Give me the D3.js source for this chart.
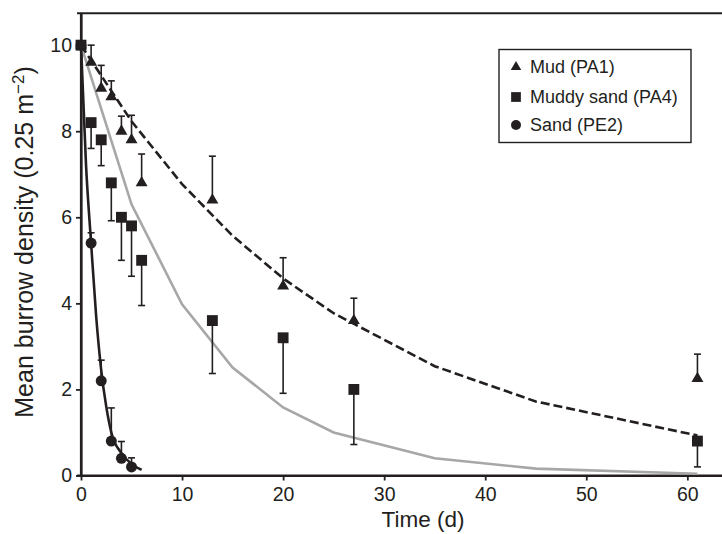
<!DOCTYPE html>
<html>
<head>
<meta charset="utf-8">
<script src="https://cdn.jsdelivr.net/npm/d3@7"></script>
<style>
  html, body { margin: 0; padding: 0; background: #fff; }
  svg text { font-family: "Liberation Sans", Arial, Helvetica, sans-serif; fill: #231f20; }
</style>
</head>
<body>
<svg id="chart" width="722" height="534"></svg>
<script>
// ---- data ----
const days = [0, 1, 2, 3, 4, 5, 6, 13, 20, 27, 61];
const mudMean = [10, 9.6, 9.0, 8.8, 8.0, 7.8, 6.8, 6.4, 4.4, 3.6, 2.25];
const mudErr = [0, 0.4, 0.53, 0.37, 0.35, 0.57, 0.67, 1.02, 0.66, 0.52, 0.57];
const muddySandMean = [10, 8.2, 7.8, 6.8, 6.0, 5.8, 5.0, 3.6, 3.2, 2.0, 0.8];
const muddySandErr = [0, 0.6, 0.6, 0.88, 1.0, 1.17, 1.05, 1.23, 1.29, 1.28, 0.6];
const sandDays = [0, 1, 2, 3, 4, 5];
const sandMean = [10, 5.4, 2.2, 0.8, 0.4, 0.2];
const sandErr = [0, 0.24, 0.48, 0.77, 0.39, 0.21];

const fitDays = [0, 5, 10, 15, 20, 25, 35, 45, 61];
const mudFit = [10, 8.23, 6.77, 5.57, 4.58, 3.77, 2.54, 1.72, 0.93];
const muddySandFit = [10, 6.3, 3.98, 2.51, 1.58, 1.0, 0.40, 0.16, 0.04];
const sandFitDays = [0, 0.5, 1, 1.5, 2, 2.5, 3, 4, 5, 6];
const sandFit = [10, 7.2, 5.4, 3.7, 2.45, 1.6, 1.0, 0.52, 0.27, 0.13];

const xTicks = [0, 10, 20, 30, 40, 50, 60];
const yTicks = [0, 2, 4, 6, 8, 10];
const legendLabels = ["Mud (PA1)", "Muddy sand (PA4)", "Sand (PE2)"];

// ---- layout ----
const ink = "#231f20";
const svg = d3.select("#chart");
const x = d3.scaleLinear().domain([0, 63.43]).range([81, 722]);
const y = d3.scaleLinear().domain([0, 10.74]).range([475.5, 13.3]);

// frame lines
svg.append("line").attr("x1", 77).attr("x2", 722).attr("y1", y(10.74)).attr("y2", y(10.74))
  .attr("stroke", ink).attr("stroke-width", 2);

// axes
const xAxis = svg.append("g").attr("transform", `translate(0,${y(0)})`)
  .call(d3.axisBottom(x).tickValues(xTicks).tickSize(5).tickPadding(7).tickSizeOuter(0));
const yAxis = svg.append("g").attr("transform", `translate(${x(0)},0)`)
  .call(d3.axisLeft(y).tickValues(yTicks).tickSize(5).tickPadding(4).tickSizeOuter(0));
[xAxis, yAxis].forEach(g => {
  g.select(".domain").attr("stroke", ink).attr("stroke-width", 2.2);
  g.selectAll(".tick line").attr("stroke", ink).attr("stroke-width", 1.8);
  g.selectAll(".tick text").attr("font-size", 19.5).style("font-family", '"Liberation Sans", Arial, sans-serif').attr("fill", ink);
});
// extend axes lines to the frame corners
svg.append("line").attr("x1", x(0)).attr("x2", x(0)).attr("y1", y(10.74)).attr("y2", y(0))
  .attr("stroke", ink).attr("stroke-width", 2.2);
svg.append("line").attr("x1", 77).attr("x2", 722).attr("y1", y(0)).attr("y2", y(0))
  .attr("stroke", ink).attr("stroke-width", 2.2);

// axis titles
svg.append("text").attr("x", 423).attr("y", 527).attr("text-anchor", "middle")
  .attr("font-size", 22.5).text("Time (d)");
const yl = svg.append("text").attr("transform", "translate(33,242) rotate(-90)")
  .attr("text-anchor", "middle").attr("font-size", 25);
yl.append("tspan").text("Mean burrow density (0.25 m");
yl.append("tspan").attr("dy", -9).attr("font-size", 17).text("\u22122");
yl.append("tspan").attr("dy", 9).text(")");

// ---- fitted lines ----
const mkLine = (xs, curve) => d3.line().x((d, i) => x(xs[i])).y(d => y(d)).curve(curve || d3.curveLinear);
svg.append("path").datum(muddySandFit).attr("d", mkLine(fitDays))
  .attr("fill", "none").attr("stroke", "#a7a7a7").attr("stroke-width", 2.6);
svg.append("path").datum(mudFit).attr("d", mkLine(fitDays))
  .attr("fill", "none").attr("stroke", ink).attr("stroke-width", 2.6).attr("stroke-dasharray", "9,4");
svg.append("path").datum(sandFit).attr("d", mkLine(sandFitDays, d3.curveMonotoneX))
  .attr("fill", "none").attr("stroke", ink).attr("stroke-width", 2.6);

// ---- error bars ----
function errBars(xs, means, errs, dir) {
  const g = svg.append("g").attr("stroke", ink).attr("stroke-width", 1.6);
  xs.forEach((d, i) => {
    if (!errs[i]) return;
    const y0 = y(means[i]);
    const y1 = y(means[i] + dir * errs[i]);
    g.append("line").attr("x1", x(d)).attr("x2", x(d)).attr("y1", y0).attr("y2", y1);
    g.append("line").attr("x1", x(d) - 3.5).attr("x2", x(d) + 3.5).attr("y1", y1).attr("y2", y1);
  });
}
errBars(days, mudMean, mudErr, 1);
errBars(days, muddySandMean, muddySandErr, -1);
errBars(sandDays, sandMean, sandErr, 1);

// ---- markers ----
const tri = d3.symbol().type(d3.symbolTriangle).size(62);
const sq = d3.symbol().type(d3.symbolSquare).size(118);
const circ = d3.symbol().type(d3.symbolCircle).size(95);
svg.append("g").selectAll("path").data(days).join("path")
  .attr("transform", (d, i) => `translate(${x(d)},${y(mudMean[i])})`).attr("d", tri).attr("fill", ink);
svg.append("g").selectAll("path").data(days).join("path")
  .attr("transform", (d, i) => `translate(${x(d)},${y(muddySandMean[i])})`).attr("d", sq).attr("fill", ink);
svg.append("g").selectAll("path").data(sandDays).join("path")
  .attr("transform", (d, i) => `translate(${x(d)},${y(sandMean[i])})`).attr("d", circ).attr("fill", ink);

// ---- legend ----
const lg = svg.append("g");
lg.append("rect").attr("x", 499).attr("y", 49.5).attr("width", 192).attr("height", 93)
  .attr("fill", "#fff").attr("stroke", ink).attr("stroke-width", 1.4);
const legSyms = [d3.symbol().type(d3.symbolTriangle).size(48), d3.symbol().type(d3.symbolSquare).size(95), d3.symbol().type(d3.symbolCircle).size(78)];
const legY = [67, 97, 125];
const legBase = [72.7, 103.3, 130.7];
legendLabels.forEach((t, i) => {
  lg.append("path").attr("transform", `translate(516,${legY[i]})`).attr("d", legSyms[i]).attr("fill", ink);
  lg.append("text").attr("x", 530).attr("y", legBase[i]).attr("font-size", 18).text(t);
});
</script>
</body>
</html>
